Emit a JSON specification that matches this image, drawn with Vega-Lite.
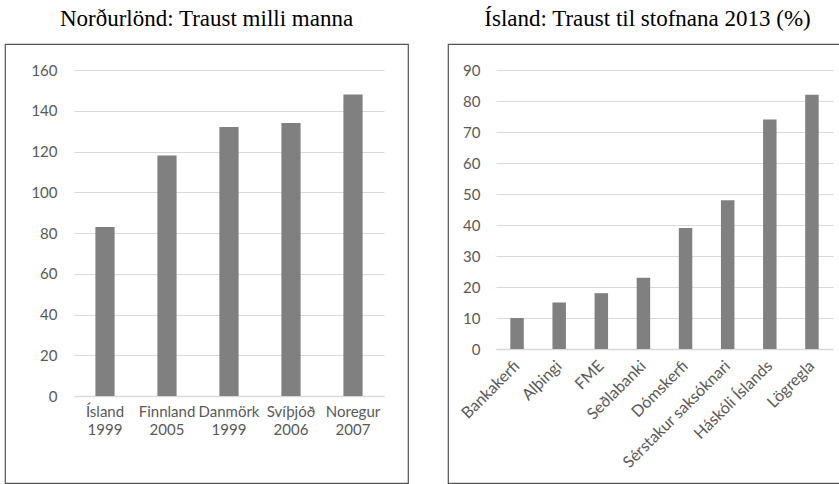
{
  "$schema": "https://vega.github.io/schema/vega-lite/v6.json",
  "padding": {"left": 4, "top": 7, "right": 0, "bottom": 0},
  "background": "white",
  "spacing": 40,
  "bounds": "flush",
  "config": {
    "view": {"stroke": "#555555", "strokeWidth": 1.2},
    "bar": {"color": "#808080"},
    "axis": {
      "labelFont": "Lato",
      "labelFontSize": 15,
      "labelColor": "#595959",
      "ticks": false,
      "gridColor": "#d9d9d9",
      "domainColor": "#d9d9d9",
      "domainWidth": 1.5
    },
    "title": {
      "font": "Liberation Serif",
      "fontSize": 23,
      "fontWeight": "normal",
      "color": "#000000",
      "baseline": "alphabetic",
      "offset": 13
    }
  },
  "hconcat": [
    {
      "title": "Norðurlönd: Traust milli manna",
      "width": 403,
      "height": 439,
      "data": {
        "values": [
          {"land": "Ísland 1999", "gildi": 83},
          {"land": "Finnland 2005", "gildi": 118},
          {"land": "Danmörk 1999", "gildi": 132},
          {"land": "Svíþjóð 2006", "gildi": 134},
          {"land": "Noregur 2007", "gildi": 148}
        ]
      },
      "mark": {"type": "bar", "width": {"band": 0.31}},
      "encoding": {
        "x": {
          "field": "land",
          "type": "nominal",
          "sort": null,
          "scale": {"range": [69, 379], "paddingInner": 0, "paddingOuter": 0},
          "axis": {
            "title": null,
            "labelAngle": 0,
            "offset": -87,
            "labelExpr": "split(datum.label, ' ')",
            "labelLineHeight": 18,
            "labelPadding": 8
          }
        },
        "y": {
          "field": "gildi",
          "type": "quantitative",
          "scale": {"domain": [0, 160], "range": [352, 26], "nice": false},
          "axis": {
            "title": null,
            "values": [0, 20, 40, 60, 80, 100, 120, 140, 160],
            "domain": false,
            "offset": -69,
            "labelPadding": 17
          }
        }
      }
    },
    {
      "title": "Ísland: Traust til stofnana 2013 (%)",
      "width": 399,
      "height": 439,
      "data": {
        "values": [
          {"stofnun": "Bankakerfi", "gildi": 10},
          {"stofnun": "Alþingi", "gildi": 15},
          {"stofnun": "FME", "gildi": 18},
          {"stofnun": "Seðlabanki", "gildi": 23},
          {"stofnun": "Dómskerfi", "gildi": 39},
          {"stofnun": "Sérstakur saksóknari", "gildi": 48},
          {"stofnun": "Háskóli Íslands", "gildi": 74},
          {"stofnun": "Lögregla", "gildi": 82}
        ]
      },
      "mark": {"type": "bar", "width": {"band": 0.32}},
      "encoding": {
        "x": {
          "field": "stofnun",
          "type": "nominal",
          "sort": null,
          "scale": {"range": [48, 385], "paddingInner": 0, "paddingOuter": 0},
          "axis": {
            "title": null,
            "labelAngle": -45,
            "labelAlign": "right",
            "labelBaseline": "middle",
            "labelFontSize": 16,
            "offset": -134,
            "labelPadding": 14
          }
        },
        "y": {
          "field": "gildi",
          "type": "quantitative",
          "scale": {"domain": [0, 90], "range": [305, 26], "nice": false},
          "axis": {
            "title": null,
            "values": [0, 10, 20, 30, 40, 50, 60, 70, 80, 90],
            "domain": false,
            "offset": -48,
            "labelPadding": 16
          }
        }
      }
    }
  ]
}
